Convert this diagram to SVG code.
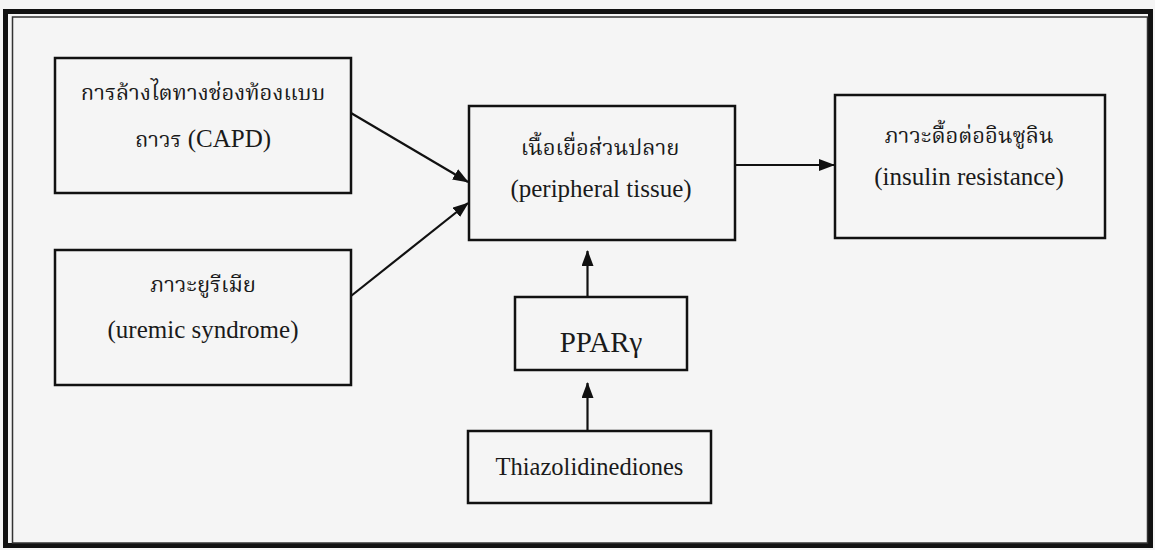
<svg xmlns="http://www.w3.org/2000/svg" width="1155" height="550" viewBox="0 0 1155 550">
<style>
.box{fill:none;stroke:#111;stroke-width:2.5}
.t{font-family:"Liberation Serif","Noto Serif Thai","Noto Sans Thai","Loma","Garuda","DejaVu Sans",serif;font-size:25px;fill:#1a1a1a;text-anchor:middle}
.th{font-size:22px}
.en{font-family:"Liberation Serif",serif;font-size:25px}
.c{stroke:#111;stroke-width:2.2;fill:none;marker-end:url(#ah)}
</style>
<defs>
<marker id="ah" viewBox="0 0 16 12" refX="15" refY="6" markerWidth="16" markerHeight="12" markerUnits="userSpaceOnUse" orient="auto">
<path d="M0,0 L16,6 L0,12 Z" fill="#111"/>
</marker>
</defs>
<rect x="0" y="0" width="1155" height="550" fill="#f5f5f5"/>
<g id="frame">
<rect x="5.5" y="11.5" width="1145" height="534" fill="none" stroke="#111" stroke-width="5"/>
<rect x="12.5" y="17" width="1135" height="526" fill="none" stroke="#333" stroke-width="1.5"/>
</g>
<g id="n-capd">
<rect class="box" x="55" y="58" width="296" height="135"/>
<text class="t th" x="203" y="100">การล้างไตทางช่องท้องแบบ</text>
<text class="t th" x="203" y="147">ถาวร<tspan class="en"> (CAPD)</tspan></text>
</g>
<g id="n-uremic">
<rect class="box" x="55" y="250" width="296" height="135"/>
<text class="t th" x="203" y="292">ภาวะยูรีเมีย</text>
<text class="t" x="203" y="338">(uremic syndrome)</text>
</g>
<g id="n-peripheral">
<rect class="box" x="469" y="106" width="266" height="134"/>
<text class="t th" x="600" y="155">เนื้อเยื่อส่วนปลาย</text>
<text class="t" x="601" y="197">(peripheral tissue)</text>
</g>
<g id="n-insulin">
<rect class="box" x="835" y="95" width="270" height="143"/>
<text class="t th" x="969" y="143">ภาวะดื้อต่ออินซูลิน</text>
<text class="t" x="969" y="185">(insulin resistance)</text>
</g>
<g id="n-ppar">
<rect class="box" x="515" y="297" width="172" height="73"/>
<text class="t" x="601" y="352" style="font-size:29px">PPARγ</text>
</g>
<g id="n-tzd">
<rect class="box" x="468" y="431" width="243" height="72"/>
<text class="t" x="589.5" y="475" style="font-size:24.5px">Thiazolidinediones</text>
</g>
<g id="connectors">
<line class="c" x1="351" y1="113" x2="468" y2="182"/>
<line class="c" x1="351" y1="296" x2="468" y2="203"/>
<line class="c" x1="735" y1="165" x2="834" y2="165"/>
<line class="c" x1="587.5" y1="297" x2="587.5" y2="251"/>
<line class="c" x1="587.5" y1="431" x2="587.5" y2="383"/>
</g>
</svg>
